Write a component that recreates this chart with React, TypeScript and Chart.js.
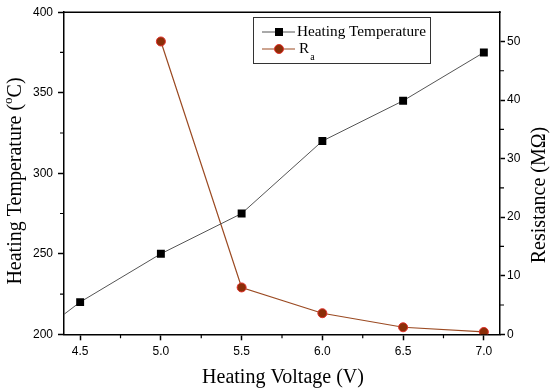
import React, { useEffect, useRef } from "react";
import { Chart, registerables } from "chart.js";

Chart.register(...registerables);

// ---- data ----
const heatingVoltages = [4.0, 4.5, 5.0, 5.5, 6.0, 6.5, 7.0];
const heatingTemperatures = [182, 220, 250, 275, 320, 345, 375];
const resistanceVoltages = [5.0, 5.5, 6.0, 6.5, 7.0];
const resistanceValues = [50.0, 8.0, 3.6, 1.2, 0.4];

const xTicks = [4.5, 5.0, 5.5, 6.0, 6.5, 7.0];
const xMinorTicks = [4.75, 5.25, 5.75, 6.25, 6.75];
const leftTicks = [200, 250, 300, 350, 400];
const leftMinorTicks = [225, 275, 325, 375];
const rightTicks = [0, 10, 20, 30, 40, 50];
const rightMinorTicks = [5, 15, 25, 35, 45];

const SERIF = '"Liberation Serif", "Times New Roman", serif';
const SANS = '"Liberation Sans", Arial, sans-serif';

const TEMP_LINE = "#555555";
const RA_LINE = "#9B4A22";
const RA_FILL = "#8B2E08";
const RA_EDGE = "#E0302A";

const decorPlugin = {
  id: "decor",
  afterDraw(chart: any) {
    const { ctx, chartArea: a, scales } = chart;
    ctx.save();
    // top frame
    ctx.strokeStyle = "#000";
    ctx.lineWidth = 1.5;
    ctx.beginPath();
    ctx.moveTo(a.left - 0.75, a.top);
    ctx.lineTo(a.right + 0.75, a.top);
    ctx.stroke();

    // minor ticks
    ctx.lineWidth = 1.2;
    ctx.beginPath();
    xMinorTicks.forEach((v) => {
      const px = scales.x.getPixelForValue(v);
      ctx.moveTo(px, a.bottom);
      ctx.lineTo(px, a.bottom + 4);
    });
    leftMinorTicks.forEach((v) => {
      const py = scales.y.getPixelForValue(v);
      ctx.moveTo(a.left, py);
      ctx.lineTo(a.left - 4, py);
    });
    rightMinorTicks.forEach((v) => {
      const py = scales.y1.getPixelForValue(v);
      ctx.moveTo(a.right, py);
      ctx.lineTo(a.right + 4, py);
    });
    ctx.stroke();

    // axis titles
    ctx.fillStyle = "#000";
    ctx.textBaseline = "middle";
    // bottom
    ctx.font = `20px ${SERIF}`;
    ctx.textAlign = "center";
    ctx.fillText("Heating Voltage (V)", (a.left + a.right) / 2 + 1, 378);

    // left with superscript
    ctx.save();
    ctx.translate(16, 181);
    ctx.rotate(-Math.PI / 2);
    ctx.textAlign = "left";
    const p1 = "Heating Temperature (";
    const p2 = "o";
    const p3 = "C)";
    ctx.font = `20px ${SERIF}`;
    const w1 = ctx.measureText(p1).width;
    const w3 = ctx.measureText(p3).width;
    ctx.font = `13px ${SERIF}`;
    const w2 = ctx.measureText(p2).width;
    const total = w1 + w2 + w3;
    let cx = -total / 2;
    ctx.font = `20px ${SERIF}`;
    ctx.fillText(p1, cx, 0);
    cx += w1;
    ctx.font = `13px ${SERIF}`;
    ctx.fillText(p2, cx, -7);
    cx += w2;
    ctx.font = `20px ${SERIF}`;
    ctx.fillText(p3, cx, 0);
    ctx.restore();

    // right
    ctx.save();
    ctx.translate(540, 195);
    ctx.rotate(-Math.PI / 2);
    ctx.textAlign = "center";
    ctx.font = `20px ${SERIF}`;
    ctx.fillText("Resistance (M\u03A9)", 0, 0);
    ctx.restore();

    // legend
    ctx.strokeStyle = "#333";
    ctx.lineWidth = 1;
    ctx.strokeRect(253.5, 17.5, 177, 46);

    // row 1
    ctx.strokeStyle = TEMP_LINE;
    ctx.beginPath();
    ctx.moveTo(262, 32);
    ctx.lineTo(295, 32);
    ctx.stroke();
    ctx.fillStyle = "#000";
    ctx.fillRect(279 - 4, 32 - 4, 8, 8);
    ctx.font = `15.25px ${SERIF}`;
    ctx.textAlign = "left";
    ctx.fillText("Heating Temperature", 297, 32);

    // row 2
    ctx.strokeStyle = RA_LINE;
    ctx.lineWidth = 1.2;
    ctx.beginPath();
    ctx.moveTo(262, 49);
    ctx.lineTo(295, 49);
    ctx.stroke();
    ctx.beginPath();
    ctx.arc(279, 49, 4.5, 0, Math.PI * 2);
    ctx.fillStyle = RA_FILL;
    ctx.fill();
    ctx.strokeStyle = RA_EDGE;
    ctx.lineWidth = 1;
    ctx.stroke();
    ctx.fillStyle = "#000";
    ctx.font = `15.25px ${SERIF}`;
    ctx.fillText("R", 299, 49);
    const rw = ctx.measureText("R").width;
    ctx.font = `10px ${SERIF}`;
    ctx.fillText("a", 299 + rw + 1, 57);

    ctx.restore();
  },
};

export default function App() {
  const canvasRef = useRef<HTMLCanvasElement | null>(null);

  useEffect(() => {
    const canvas = canvasRef.current;
    if (!canvas) return;

    const tempData = heatingVoltages.map((v, i) => ({ x: v, y: heatingTemperatures[i] }));
    const raData = resistanceVoltages.map((v, i) => ({ x: v, y: resistanceValues[i] }));

    const tickFont = { family: SANS, size: 12 };

    const chart = new Chart(canvas, {
      type: "line",
      data: {
        datasets: [
          {
            label: "Heating Temperature",
            data: tempData,
            yAxisID: "y",
            borderColor: TEMP_LINE,
            borderWidth: 1,
            pointStyle: "rect",
            pointRadius: 5.6,
            pointBackgroundColor: "#000",
            pointBorderColor: "#000",
            pointBorderWidth: 0,
            tension: 0,
          },
          {
            label: "Ra",
            data: raData,
            yAxisID: "y1",
            borderColor: RA_LINE,
            borderWidth: 1.2,
            pointStyle: "circle",
            pointRadius: 4.5,
            pointBackgroundColor: RA_FILL,
            pointBorderColor: RA_EDGE,
            pointBorderWidth: 1,
            tension: 0,
          },
        ],
      },
      options: {
        animation: false,
        responsive: false,
        maintainAspectRatio: false,
        layout: { padding: { top: 10.7, left: 0, right: 0, bottom: 0 } },
        plugins: {
          legend: { display: false },
          tooltip: { enabled: false },
        },
        scales: {
          x: {
            type: "linear",
            position: "bottom",
            min: 4.4,
            max: 7.1,
            afterBuildTicks: (s: any) => {
              s.ticks = xTicks.map((v) => ({ value: v }));
            },
            afterFit: (s: any) => {
              s.height = 55.7;
            },
            ticks: {
              font: tickFont,
              color: "#000",
              padding: 4,
              autoSkip: false,
              maxRotation: 0,
              callback: (v: any) => Number(v).toFixed(1),
            },
            grid: {
              drawOnChartArea: false,
              drawTicks: true,
              tickLength: 6,
              tickWidth: 1.5,
              tickColor: "#000",
            },
            border: { display: true, color: "#000", width: 1.5 },
          },
          y: {
            type: "linear",
            position: "left",
            min: 200,
            max: 400,
            afterBuildTicks: (s: any) => {
              s.ticks = leftTicks.map((v) => ({ value: v }));
            },
            afterFit: (s: any) => {
              s.width = 64;
            },
            ticks: {
              font: tickFont,
              color: "#000",
              padding: 5,
              callback: (v: any) => String(v),
            },
            grid: {
              drawOnChartArea: false,
              drawTicks: true,
              tickLength: 6,
              tickWidth: 1.5,
              tickColor: "#000",
            },
            border: { display: true, color: "#000", width: 1.5 },
          },
          y1: {
            type: "linear",
            position: "right",
            min: 0,
            max: 55,
            afterBuildTicks: (s: any) => {
              s.ticks = rightTicks.map((v) => ({ value: v }));
            },
            afterFit: (s: any) => {
              s.width = 50;
            },
            ticks: {
              font: tickFont,
              color: "#000",
              padding: 2,
              callback: (v: any) => String(v),
            },
            grid: {
              drawOnChartArea: false,
              drawTicks: true,
              tickLength: 5,
              tickWidth: 1.5,
              tickColor: "#000",
            },
            border: { display: true, color: "#000", width: 1.5 },
          },
        },
      },
      plugins: [decorPlugin],
    } as any);

    return () => {
      chart.destroy();
    };
  }, []);

  return (
    <div style={{ position: "absolute", left: 0, top: 0, width: 550, height: 390, background: "#fff" }}>
      <canvas ref={canvasRef} width={550} height={390} style={{ display: "block", width: 550, height: 390 }} />
    </div>
  );
}
